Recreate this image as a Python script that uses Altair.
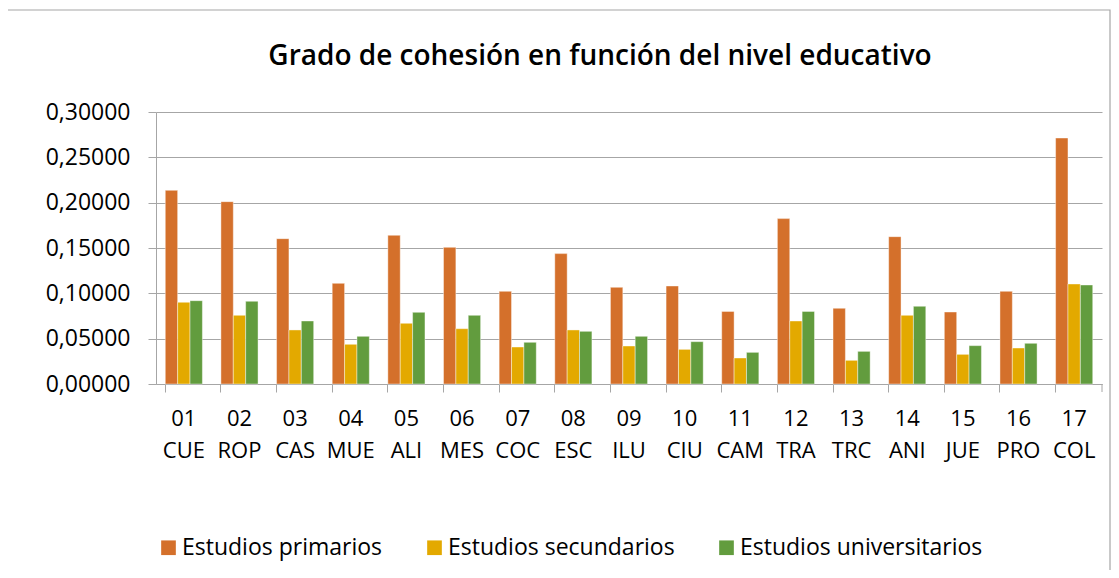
import altair as alt
import pandas as pd

codes = ["01", "02", "03", "04", "05", "06", "07", "08", "09", "10",
         "11", "12", "13", "14", "15", "16", "17"]
names = ["CUE", "ROP", "CAS", "MUE", "ALI", "MES", "COC", "ESC", "ILU", "CIU",
         "CAM", "TRA", "TRC", "ANI", "JUE", "PRO", "COL"]
series = ["Estudios primarios", "Estudios secundarios", "Estudios universitarios"]
primarios = [0.2136, 0.2011, 0.1603, 0.1110, 0.1640, 0.1507, 0.1022, 0.1438, 0.1066,
             0.1081, 0.0801, 0.1824, 0.0835, 0.1625, 0.0794, 0.1022, 0.2713]
secundarios = [0.0901, 0.0757, 0.0596, 0.0438, 0.0669, 0.0610, 0.0408, 0.0596, 0.0419,
               0.0382, 0.0287, 0.0695, 0.0261, 0.0757, 0.0327, 0.0397, 0.1103]
universitarios = [0.0919, 0.0912, 0.0695, 0.0526, 0.0790, 0.0757, 0.0460, 0.0581, 0.0526,
                  0.0467, 0.0349, 0.0801, 0.0360, 0.0857, 0.0423, 0.0449, 0.1092]
colors = ["#D4702B", "#E3A900", "#629C3E"]
title = "Grado de cohesión en función del nivel educativo"

cats = [f"{c} {n}" for c, n in zip(codes, names)]
rows = []
for s, vals in zip(series, [primarios, secundarios, universitarios]):
    for c, v in zip(cats, vals):
        rows.append({"cat": c, "serie": s, "valor": v})
df = pd.DataFrame(rows)

FONT = "Open Sans"
GRID = "#A6A6A6"

bars = alt.Chart(df).mark_bar(stroke="white", strokeWidth=0.6, strokeOpacity=0.7).encode(
    x=alt.X("cat:N", sort=cats, title=None,
            scale=alt.Scale(paddingInner=0.333, paddingOuter=0.1667),
            axis=alt.Axis(labelAngle=0, labelExpr="split(datum.label, ' ')",
                          labelLineHeight=32, labelFontSize=22, labelFont=FONT,
                          labelColor="black", labelPadding=16, bandPosition=0,
                          tickSize=8, tickColor=GRID, domainColor=GRID,
                          labelBaseline="top", grid=False)),
    xOffset=alt.XOffset("serie:N", sort=series, scale=alt.Scale(paddingInner=0, paddingOuter=0)),
    y=alt.Y("valor:Q", title=None,
            scale=alt.Scale(domain=[0, 0.30], nice=False),
            axis=alt.Axis(values=[0, 0.05, 0.10, 0.15, 0.20, 0.25, 0.30],
                          labelExpr="replace(format(datum.value, '.5f'), '.', ',')",
                          labelFontSize=23, labelFont=FONT, labelColor="black",
                          labelPadding=18, tickSize=8, tickColor=GRID,
                          domainColor=GRID, gridColor=GRID, grid=True)),
    color=alt.Color("serie:N", sort=series,
                    scale=alt.Scale(domain=series, range=colors),
                    legend=alt.Legend(title=None, orient="none", direction="horizontal",
                                      legendX=1, legendY=424, symbolType="square",
                                      symbolSize=215, symbolStrokeWidth=0,
                                      labelFontSize=23, labelFont=FONT, labelLimit=500,
                                      labelColor="black", labelOffset=2,
                                      columnPadding=40, symbolOpacity=1)),
)

border = alt.Chart(pd.DataFrame({"a": [0]})).mark_rect(
    fill=None, stroke="#A6A6A6", strokeWidth=1.2
).encode(x=alt.value(-149), x2=alt.value(954), y=alt.value(-102), y2=alt.value(480))

endtick = alt.Chart(pd.DataFrame({"a": [0]})).mark_rule(color=GRID).encode(
    x=alt.value(946), y=alt.value(272), y2=alt.value(280))

chart = alt.layer(border, bars, endtick).properties(
    width=946, height=272,
    padding={"left": 148, "top": 104, "right": 9, "bottom": 186},
    autosize=alt.AutoSizeParams(type="none"),
    title=alt.TitleParams(title, font=FONT, fontSize=28, fontWeight=600,
                          color="black", anchor="middle", frame="group",
                          baseline="alphabetic", offset=-84, dx=-29),
).configure_view(stroke=None)

chart.save("out.html", embed_options={"renderer": "svg", "actions": False})
